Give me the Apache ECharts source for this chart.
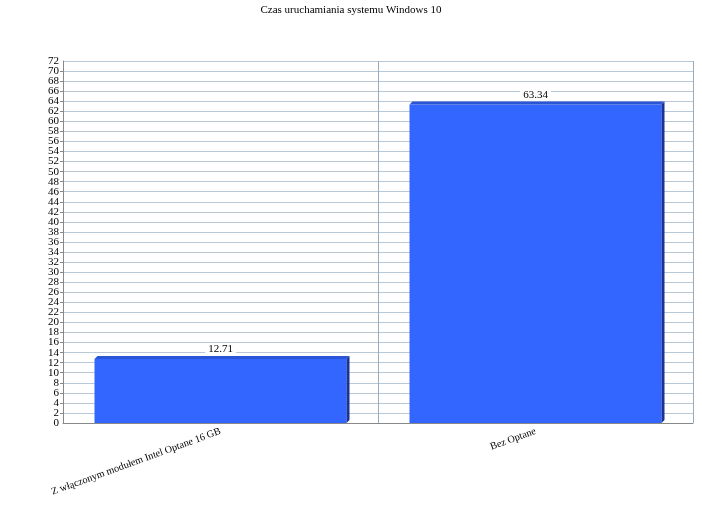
<!DOCTYPE html>
<html><head><meta charset="utf-8">
<script src="https://cdn.jsdelivr.net/npm/echarts@6/dist/echarts.min.js"></script>
<style>html,body{margin:0;padding:0;background:#fff}#c{width:702px;height:516px}</style>
</head><body><div id="c"></div>
<script>
const titleText = 'Czas uruchamiania systemu Windows 10';
const categories = ['Z włączonym modułem Intel Optane 16 GB', 'Bez Optane'];
const values = [12.71, 63.34];
const yMin = 0, yMax = 72, yStep = 2;

const chart = echarts.init(document.getElementById('c'));
const font = '"Liberation Serif", "DejaVu Serif", serif';
const labelStyle = { fontFamily: font, fontSize: 11, color: '#000', margin: 4 };
chart.setOption({
  animation: false,
  title: { text: titleText, left: 'center', top: 0, textStyle: { fontFamily: font, fontSize: 11, fontWeight: 'normal', color: '#000' } },
  grid: { left: 63, right: 9, top: 61, bottom: 93 },
  xAxis: {
    type: 'category', data: categories,
    axisLine: { lineStyle: { color: '#888', width: 1 } },
    axisTick: { show: false },
    splitLine: { show: true, lineStyle: { color: '#9aabbf', width: 1 } },
    axisLabel: { rotate: 20, fontFamily: font, fontSize: 10.2, color: '#000', margin: 8, interval: 0 }
  },
  yAxis: [{
    type: 'value', min: yMin, max: yMax, interval: yStep,
    axisLine: { show: true, lineStyle: { color: '#888' } },
    axisTick: { show: true, length: 3, lineStyle: { color: '#888' } },
    axisLabel: Object.assign({ showMinLabel: false, showMaxLabel: false }, labelStyle),
    splitLine: { lineStyle: { color: '#b8c8d8', width: 1 } }
  }, {
    type: 'value', position: 'left', min: yMin, max: yMax, interval: yMax - yMin,
    axisLine: { show: false }, axisTick: { show: false }, splitLine: { show: false },
    axisLabel: labelStyle
  }],
  series: [{
    type: 'custom',
    yAxisIndex: 0,
    data: values.map((v, i) => [i, v]),
    renderItem: function (params, api) {
      const i = api.value(0), v = api.value(1);
      const top = api.coord([i, v]);
      const base = api.coord([i, 0]);
      const bw = api.size([1, 0])[0] * 0.8;
      const x0 = top[0] - bw / 2, x1 = top[0] + bw / 2;
      const d = 3;
      return {
        type: 'group',
        children: [
          { type: 'rect', shape: { x: x0, y: top[1], width: bw, height: base[1] - top[1] }, style: { fill: '#3366ff' } },
          { type: 'polygon', shape: { points: [[x0, top[1]], [x0 + d, top[1] - d], [x1 + d, top[1] - d], [x1, top[1]]] }, style: { fill: '#2b55d6' } },
          { type: 'polygon', shape: { points: [[x1, top[1]], [x1 + d, top[1] - d], [x1 + d, base[1] - d], [x1, base[1]]] }, style: { fill: '#1a3399' } },
          { type: 'text', x: top[0], y: top[1] - 4, style: { text: v.toFixed(2), fontFamily: font, fontSize: 11, fill: '#000', align: 'center', verticalAlign: 'bottom', backgroundColor: '#fff', padding: [0, 3] } }
        ]
      };
    }
  }]
});
</script></body></html>
